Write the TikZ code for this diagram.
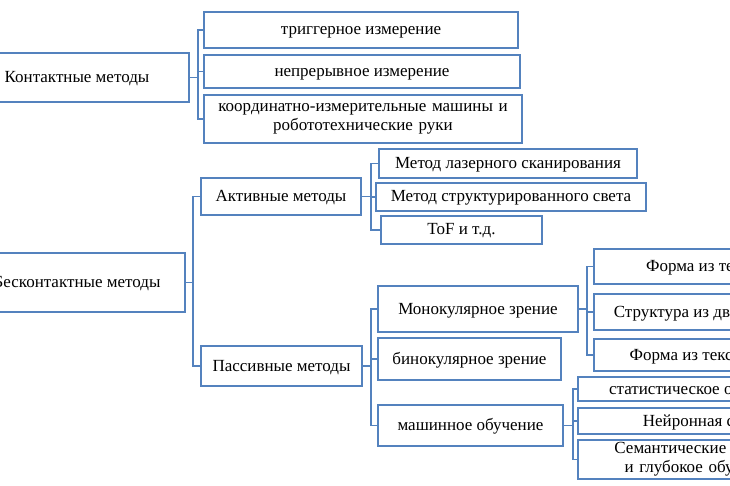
\documentclass[tikz,border=0pt]{standalone}
\usepackage{fontspec}
\setmainfont{Liberation Serif}
\definecolor{boxblue}{RGB}{84,130,190}
\tikzstyle{box} = [
    rectangle,
    draw = boxblue,
    line width = 1.6pt,
    text centered,
    inner sep = 0pt,
    text height = 12pt,
    text depth = 2pt,
    font = \fontsize{17}{18}\selectfont
]
\tikzstyle{link} = [
    draw = boxblue,
    line width = 1.4pt
]
\begin{document}
\begin{tikzpicture}[x=1pt, y=-1pt]
        \useasboundingbox (0,0) rectangle (730,486);
        \clip (0,0) rectangle (730,486);

        %% Contact methods
        \node (contact) [box, minimum width=224pt, minimum height=49pt] at (77,77.5) {Контактные методы};
        \node (trigger) [box, minimum width=314pt, minimum height=36pt] at (361,30) {триггерное измерение};
        \node (contin)  [box, minimum width=316pt, minimum height=33pt] at (362,71.5) {непрерывное измерение};
        \node (cmm)     [box, minimum width=318pt, minimum height=48pt, text width=310pt, align=center, text height=, text depth=] at (363,119) {координатно-измерительные машины и\\[1pt] робототехнические руки};

        %% Non-contact methods
        \node (noncontact) [box, minimum width=216pt, minimum height=59pt] at (77,282.5) {Бесконтактные методы};
        \node (active)  [box, minimum width=160pt, minimum height=37pt] at (281,196.5) {Активные методы};
        \node (passive) [box, minimum width=161pt, minimum height=40pt] at (281.5,366) {Пассивные методы};

        %% Active
        \node (laser) [box, minimum width=258pt, minimum height=29pt] at (508,163.5) {Метод лазерного сканирования};
        \node (struct) [box, minimum width=270pt, minimum height=28pt] at (511,197) {Метод структурированного света};
        \node (tof) [box, minimum width=161pt, minimum height=28pt] at (461.5,230) {ToF и т.д.};

        %% Passive
        \node (mono) [box, minimum width=200pt, minimum height=46pt] at (478,309) {Монокулярное зрение};
        \node (bino) [box, minimum width=183pt, minimum height=42pt] at (469.5,359) {бинокулярное зрение};
        \node (ml)   [box, minimum width=185pt, minimum height=41pt] at (470.5,425.5) {машинное обучение};

        \node (shade)   [box, minimum width=210pt, minimum height=35pt] at (699,266.5) {Форма из тени};
        \node (motion)  [box, minimum width=210pt, minimum height=36pt] at (699,312) {Структура из движения};
        \node (texture) [box, minimum width=210pt, minimum height=32pt] at (699,355) {Форма из текстуры};

        \node (stat)   [box, minimum width=244pt, minimum height=24pt] at (700,389) {статистическое обучение};
        \node (neural) [box, minimum width=244pt, minimum height=26pt] at (700,421) {Нейронная сеть};
        \node (deep)   [box, minimum width=244pt, minimum height=39pt, text width=238pt, align=center, text height=, text depth=] at (700,459.5) {Семантические методы\\[1pt] и глубокое обучение};

        %% Connectors
        \draw[link] (contact.east) -- ++(8,0) |- (trigger.west);
        \draw[link] (contact.east) -- ++(8,0) |- (contin.west);
        \draw[link] (contact.east) -- ++(8,0) |- (cmm.west);

        \draw[link] (noncontact.east) -- ++(7,0) |- (active.west);
        \draw[link] (noncontact.east) -- ++(7,0) |- (passive.west);

        \draw[link] (active.east) -- ++(9,0) |- (laser.west);
        \draw[link] (active.east) -- ++(9,0) |- (struct.west);
        \draw[link] (active.east) -- ++(9,0) |- (tof.west);

        \draw[link] (passive.east) -- ++(8,0) |- (mono.west);
        \draw[link] (passive.east) -- ++(8,0) |- (bino.west);
        \draw[link] (passive.east) -- ++(8,0) |- (ml.west);

        \draw[link] (mono.east) -- ++(8,0) |- (shade.west);
        \draw[link] (mono.east) -- ++(8,0) |- (motion.west);
        \draw[link] (mono.east) -- ++(8,0) |- (texture.west);

        \draw[link] (ml.east) -- ++(9,0) |- (stat.west);
        \draw[link] (ml.east) -- ++(9,0) |- (neural.west);
        \draw[link] (ml.east) -- ++(9,0) |- (deep.west);

    \end{tikzpicture}
\end{document}
